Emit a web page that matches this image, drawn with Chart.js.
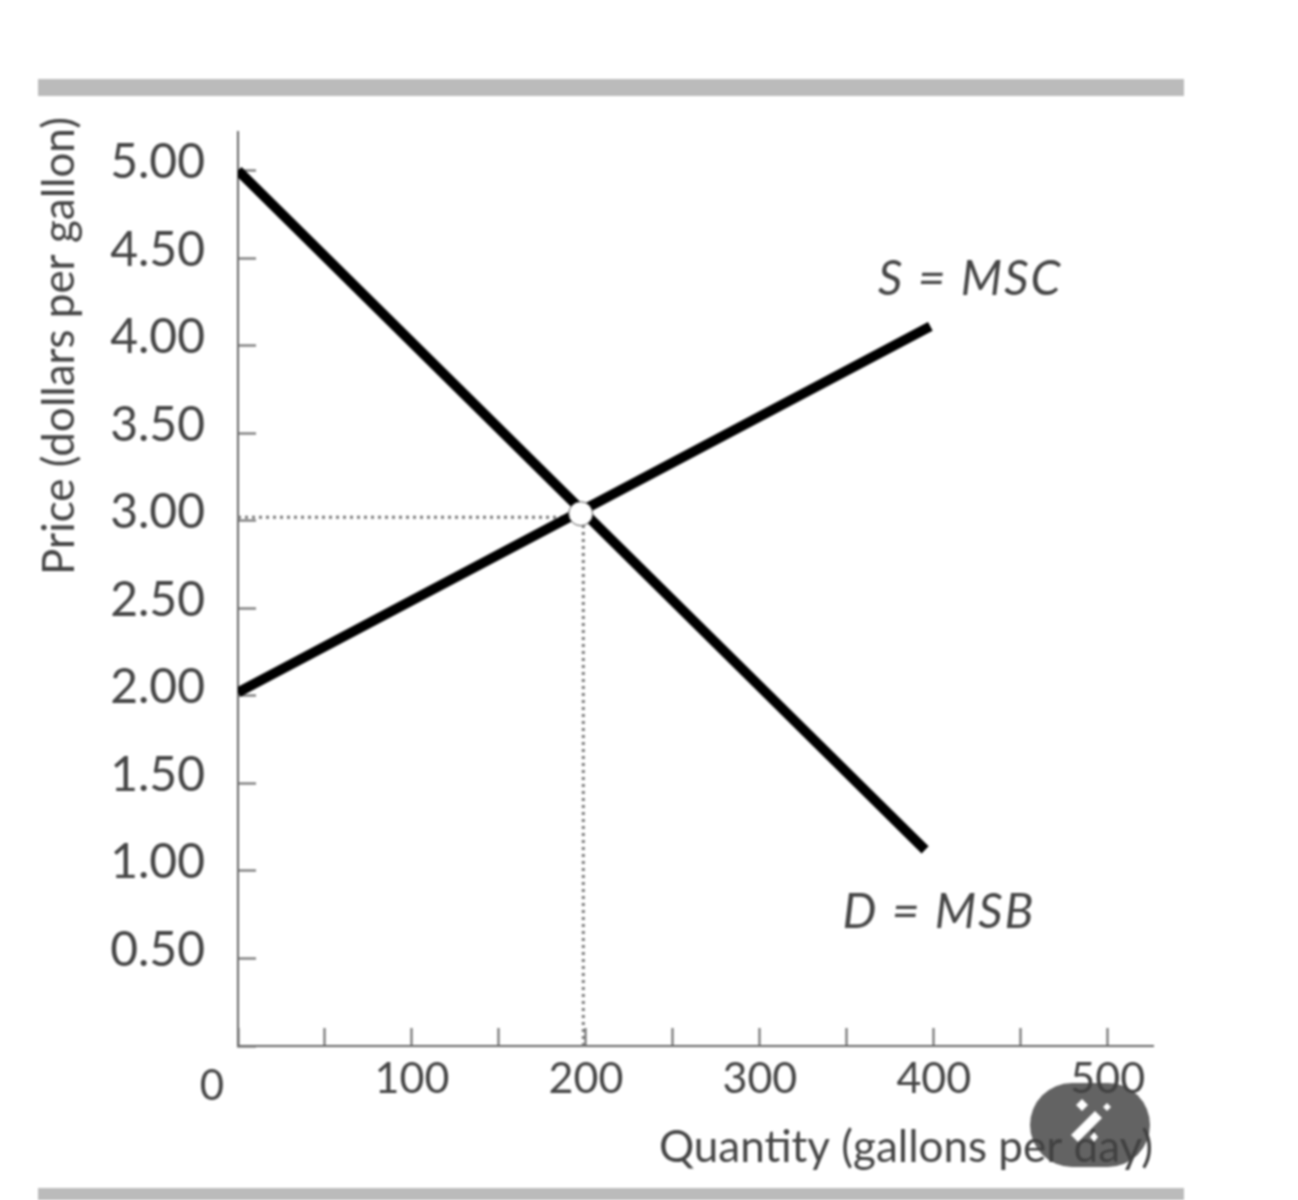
<!DOCTYPE html>
<html>
<head>
<meta charset="utf-8">
<title>S = MSC, D = MSB</title>
<script src="https://cdn.jsdelivr.net/npm/chart.js@4"></script>
<style>
  html, body { margin: 0; background: #fff; }
  #wrap { position: relative; width: 1298px; height: 1200px; overflow: hidden; filter: blur(0.8px); }
  .band { position: absolute; left: 38px; width: 1146px; background: #bbb; }
  #wand { position: absolute; left: 1030px; top: 1083px; }
</style>
</head>
<body>
<div id="wrap">
  <canvas id="priceChart" width="1298" height="1200"></canvas>
  <div class="band" style="top:79px;height:17px"></div>
  <div class="band" style="top:1188px;height:12px"></div>
  <svg id="wand" width="120" height="84" viewBox="0 0 120 84">
    <rect x="0" y="0" width="120" height="84" rx="42" fill="rgba(65,65,65,0.82)"/>
    <path d="M41 52 L65 28 L72 35 L48 59 Z" fill="#fff"/>
    <path d="M46 22 l6 -6 l6 6 l-6 6 Z M73 24 l4 -4 l4 4 l-4 4 Z M60 54 l4 -5 l4 5 l-4 5 Z" fill="#fff"/>
  </svg>
</div>
<script>
// du lieu doc tu hinh
const supplyQty = [0, 398];
const supplyPrice = [2.02, 4.11];
const demandQty = [0, 395];
const demandPrice = [5, 1.12];
const hDotQty = [0, 198];
const hDotPrice = [3.02, 3.02];
const vDotQty = [198.5, 198.5];
const vDotPrice = [0, 3.02];
const equilibriumQty = [197];
const equilibriumPrice = [3.04];

const xMax = 526;
const yMax = 5.22;
const xStep = 50;
const yStep = 0.5;
const xTitle = 'Quantity (gallons per day)';
const yTitle = 'Price (dollars per gallon)';
const originLabel = '0';
const curveNames = ['S = MSC', 'D = MSB'];
const curveNameQty = [421, 403];
const curveNamePrice = [4.38, 0.76];

const textColor = '#454545';
const axisColor = '#666';

function toPoints(xs, ys) {
    return xs.map((x, i) => ({ x: x, y: ys[i] }));
}

function dottedLine(xs, ys) {
    return {
        data: toPoints(xs, ys),
        showLine: true,
        borderColor: '#777',
        borderWidth: 3,
        borderDash: [3, 4],
        pointRadius: 0,
        order: 3
    };
}

function solidLine(xs, ys) {
    return {
        data: toPoints(xs, ys),
        showLine: true,
        borderColor: '#000',
        borderWidth: 10,
        borderCapStyle: 'butt',
        pointRadius: 0,
        order: 2
    };
}

// chu ngoai truc: nhan duong cong, so 0 va ten truc y
const extraText = {
    id: 'extraText',
    afterDraw(chart) {
        const ctx = chart.ctx;
        const xs = chart.scales.x;
        const ys = chart.scales.y;
        ctx.save();
        ctx.fillStyle = textColor;
        ctx.textAlign = 'center';
        ctx.textBaseline = 'middle';

        ctx.font = 'italic 48px Lato';
        ctx.letterSpacing = '2px';
        curveNames.forEach((name, i) => {
            ctx.fillText(name, xs.getPixelForValue(curveNameQty[i]), ys.getPixelForValue(curveNamePrice[i]));
        });
        ctx.letterSpacing = '0px';

        ctx.font = '42px Lato';
        ctx.fillText(originLabel, xs.left - 26, ys.bottom + 40);

        ctx.translate(60, 346);
        ctx.rotate(-Math.PI / 2);
        ctx.font = '44px Lato';
        ctx.fillText(yTitle, 0, 0);
        ctx.restore();
    }
};

const ctx = document.getElementById('priceChart').getContext('2d');
new Chart(ctx, {
    type: 'scatter',
    data: {
        datasets: [
            {
                data: toPoints(equilibriumQty, equilibriumPrice),
                pointRadius: 12,
                pointBackgroundColor: '#fff',
                pointBorderColor: '#555',
                pointBorderWidth: 1,
                order: 1
            },
            solidLine(demandQty, demandPrice),
            solidLine(supplyQty, supplyPrice),
            dottedLine(hDotQty, hDotPrice),
            dottedLine(vDotQty, vDotPrice)
        ]
    },
    options: {
        responsive: false,
        animation: false,
        layout: { padding: { top: 132, right: 145, left: 0, bottom: 0 } },
        plugins: {
            legend: { display: false },
            tooltip: { enabled: false }
        },
        scales: {
            x: {
                type: 'linear',
                min: 0,
                max: xMax,
                afterFit(scale) { scale.height = 154; },
                border: { color: axisColor, width: 2 },
                grid: { drawOnChartArea: false, tickLength: -18, tickColor: axisColor, tickWidth: 2 },
                title: {
                    display: true,
                    text: xTitle,
                    align: 'end',
                    color: textColor,
                    font: { family: 'Lato', size: 44 },
                    padding: { top: 0, bottom: 26 }
                },
                ticks: {
                    stepSize: xStep,
                    includeBounds: false,
                    autoSkip: false,
                    maxRotation: 0,
                    padding: 25,
                    color: textColor,
                    font: { family: 'Lato', size: 43 },
                    callback: (v) => (v > 0 && v % 100 === 0 ? String(v) : '')
                }
            },
            y: {
                type: 'linear',
                min: 0,
                max: yMax,
                afterFit(scale) { scale.width = 238; },
                border: { color: axisColor, width: 2 },
                grid: { drawOnChartArea: false, tickLength: -18, tickColor: axisColor, tickWidth: 2 },
                ticks: {
                    stepSize: yStep,
                    includeBounds: false,
                    autoSkip: false,
                    padding: 51,
                    labelOffset: -8,
                    color: textColor,
                    font: { family: 'Lato', size: 48 },
                    callback: (v) => (v > 0 ? v.toFixed(2) : '')
                }
            }
        }
    },
    plugins: [extraText]
});
</script>
</body>
</html>
